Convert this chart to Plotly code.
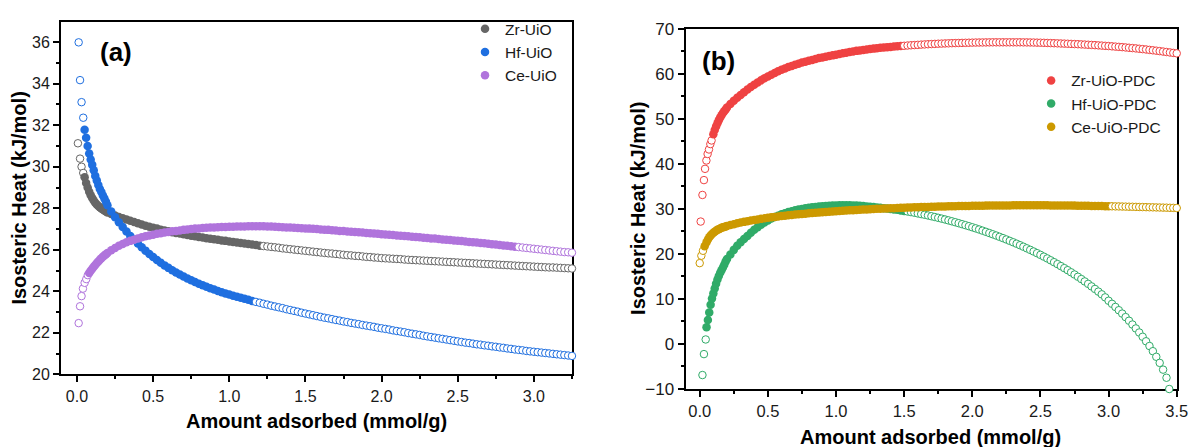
import plotly.graph_objects as go

# ---------------- data ----------------
GRID_A = [0.05, 0.06, 0.07, 0.08, 0.09, 0.10, 0.11, 0.12, 0.13, 0.14, 0.15, 0.16, 0.17, 0.18, 0.19, 0.20,
          0.225, 0.25, 0.275, 0.30, 0.325, 0.35, 0.375, 0.40, 0.425, 0.45, 0.475, 0.50, 0.525, 0.55, 0.575, 0.60,
          0.625, 0.65, 0.675, 0.70, 0.725, 0.75, 0.775, 0.80, 0.825, 0.85, 0.875, 0.90, 0.925, 0.95, 0.975, 1.00,
          1.025, 1.05, 1.075, 1.10, 1.125, 1.15, 1.175, 1.20, 1.225, 1.25, 1.275, 1.30, 1.325, 1.35, 1.375, 1.40,
          1.425, 1.45, 1.475, 1.50, 1.525, 1.55, 1.575, 1.60, 1.625, 1.65, 1.675, 1.70, 1.725, 1.75, 1.775, 1.80,
          1.825, 1.85, 1.875, 1.90, 1.925, 1.95, 1.975, 2.00,
          2.025, 2.05, 2.075, 2.10, 2.125, 2.15, 2.175, 2.20, 2.225, 2.25, 2.275, 2.30, 2.325, 2.35, 2.375, 2.40,
          2.425, 2.45, 2.475, 2.50, 2.525, 2.55, 2.575, 2.60, 2.625, 2.65, 2.675, 2.70, 2.725, 2.75, 2.775, 2.80,
          2.825, 2.85, 2.875, 2.90, 2.925, 2.95, 2.975, 3.00,
          3.025, 3.05, 3.075, 3.10, 3.125, 3.15, 3.175, 3.20, 3.225, 3.25]
GRID_B = GRID_A + [3.275, 3.30, 3.325, 3.35, 3.375, 3.40, 3.425, 3.45, 3.475, 3.50]

# Panel (a)
ZR_UIO_X = [0.006, 0.02, 0.03, 0.041] + GRID_A
ZR_UIO_Y = [31.13, 30.39, 30.00, 29.70,
            29.49, 29.22, 29.00, 28.80, 28.63, 28.49, 28.37, 28.27, 28.18, 28.11, 28.05, 27.99, 27.94, 27.89, 27.84, 27.80,
            27.72, 27.65, 27.58, 27.52, 27.46, 27.40, 27.34, 27.28, 27.22, 27.16, 27.11, 27.06, 27.02, 26.97, 26.93, 26.89,
            26.85, 26.81, 26.78, 26.75, 26.71, 26.68, 26.65, 26.62, 26.59, 26.56, 26.53, 26.51, 26.48, 26.45, 26.43, 26.40,
            26.38, 26.35, 26.33, 26.30, 26.28, 26.25, 26.23, 26.20, 26.18, 26.16, 26.14, 26.12, 26.10, 26.07, 26.05, 26.03,
            26.01, 25.99, 25.97, 25.95, 25.93, 25.91, 25.89, 25.87, 25.85, 25.83, 25.82, 25.80, 25.78, 25.76, 25.74, 25.73,
            25.71, 25.70, 25.68, 25.66, 25.65, 25.63, 25.62, 25.60,
            25.59, 25.58, 25.57, 25.56, 25.55, 25.53, 25.52, 25.51, 25.50, 25.49, 25.48, 25.47, 25.46, 25.45, 25.44, 25.43,
            25.42, 25.41, 25.40, 25.39, 25.38, 25.37, 25.36, 25.35, 25.34, 25.33, 25.32, 25.31, 25.30, 25.29, 25.28, 25.27,
            25.26, 25.25, 25.24, 25.23, 25.22, 25.21, 25.20, 25.19,
            25.18, 25.17, 25.16, 25.15, 25.15, 25.14, 25.13, 25.12, 25.11, 25.10]

HF_UIO_X = [0.011, 0.02, 0.03, 0.041] + GRID_A
HF_UIO_Y = [35.99, 34.17, 33.11, 32.36,
            31.78, 31.40, 31.00, 30.64, 30.35, 30.09, 29.83, 29.56, 29.34, 29.12, 28.93, 28.78, 28.62, 28.47, 28.31, 28.14,
            27.84, 27.57, 27.33, 27.10, 26.88, 26.67, 26.48, 26.30, 26.12, 25.96, 25.80, 25.65, 25.51, 25.38, 25.25, 25.13,
            25.02, 24.91, 24.81, 24.71, 24.62, 24.53, 24.45, 24.37, 24.29, 24.22, 24.15, 24.09, 24.02, 23.96, 23.90, 23.85,
            23.79, 23.74, 23.69, 23.64, 23.59, 23.54, 23.49, 23.45, 23.40, 23.36, 23.31, 23.27, 23.23, 23.19, 23.14, 23.10,
            23.06, 23.02, 22.97, 22.93, 22.89, 22.85, 22.81, 22.77, 22.73, 22.70, 22.66, 22.62, 22.59, 22.55, 22.52, 22.48,
            22.45, 22.42, 22.38, 22.35, 22.32, 22.29, 22.25, 22.22,
            22.19, 22.16, 22.12, 22.09, 22.06, 22.03, 21.99, 21.96, 21.93, 21.90, 21.86, 21.83, 21.80, 21.77, 21.74, 21.71,
            21.68, 21.65, 21.62, 21.59, 21.56, 21.53, 21.51, 21.48, 21.45, 21.43, 21.40, 21.38, 21.35, 21.33, 21.30, 21.28,
            21.25, 21.23, 21.20, 21.18, 21.16, 21.13, 21.11, 21.09,
            21.07, 21.05, 21.03, 21.01, 20.99, 20.97, 20.95, 20.93, 20.91, 20.89]

CE_UIO_X = [0.011, 0.02, 0.03, 0.039, 0.05, 0.061, 0.071] + GRID_A[3:]
CE_UIO_Y = [22.47, 23.28, 23.77, 24.13, 24.41, 24.59, 24.78,
            24.88, 24.99, 25.09, 25.18, 25.27, 25.36, 25.44, 25.52, 25.59, 25.66, 25.73, 25.79, 25.85,
            25.98, 26.09, 26.19, 26.28, 26.36, 26.43, 26.49, 26.55, 26.60, 26.65, 26.69, 26.73, 26.77, 26.80, 26.83, 26.86,
            26.89, 26.91, 26.93, 26.96, 26.98, 27.00, 27.02, 27.03, 27.05, 27.06, 27.07, 27.08, 27.09, 27.10, 27.10, 27.11,
            27.11, 27.12, 27.12, 27.12, 27.13, 27.13, 27.13, 27.13, 27.13, 27.12, 27.12, 27.11, 27.10, 27.09, 27.08, 27.07,
            27.06, 27.05, 27.04, 27.03, 27.02, 27.01, 27.00, 26.98, 26.97, 26.96, 26.94, 26.93, 26.91, 26.90, 26.88, 26.87,
            26.86, 26.84, 26.83, 26.81, 26.80, 26.78, 26.77, 26.75,
            26.74, 26.72, 26.71, 26.69, 26.68, 26.66, 26.65, 26.63, 26.62, 26.60, 26.58, 26.57, 26.55, 26.54, 26.52, 26.50,
            26.49, 26.47, 26.45, 26.44, 26.42, 26.40, 26.38, 26.36, 26.35, 26.33, 26.31, 26.29, 26.27, 26.25, 26.23, 26.21,
            26.19, 26.17, 26.15, 26.13, 26.11, 26.09, 26.07, 26.05,
            26.03, 26.01, 25.99, 25.97, 25.95, 25.93, 25.91, 25.89, 25.88, 25.86]

# Panel (b)
ZR_PDC_X = [0.007, 0.02, 0.031, 0.039, 0.049, 0.058, 0.068, 0.078, 0.087] + GRID_B[5:]
ZR_PDC_Y = [27.19, 33.1, 36.4, 38.9, 40.75, 42.2, 43.2, 44.4, 45.2,
            46.6, 47.5, 48.3, 49.0, 49.7, 50.3, 50.8, 51.3, 51.7, 52.1, 52.5,
            53.3, 54.0, 54.7, 55.3, 55.9, 56.5, 57.1, 57.6, 58.1, 58.55, 59.0, 59.4, 59.8, 60.2, 60.55, 60.9,
            61.2, 61.5, 61.75, 62.0, 62.25, 62.5, 62.7, 62.9, 63.1, 63.3, 63.5, 63.65, 63.8, 63.95, 64.1, 64.25,
            64.4, 64.55, 64.7, 64.85, 64.97, 65.1, 65.2, 65.3, 65.4, 65.5, 65.6, 65.7, 65.77, 65.84, 65.91, 65.98,
            66.05, 66.11, 66.17, 66.23, 66.29, 66.34, 66.39, 66.44, 66.49, 66.53, 66.57, 66.61, 66.65, 66.69, 66.72, 66.75,
            66.78, 66.81, 66.83, 66.85, 66.87, 66.89, 66.91, 66.93,
            66.95, 66.96, 66.97, 66.98, 66.99, 67.0, 67.0, 67.0, 67.0, 67.0, 67.0, 67.0, 67.0, 67.0, 66.99, 66.98,
            66.97, 66.95, 66.93, 66.91, 66.89, 66.86, 66.83, 66.8, 66.77, 66.74, 66.71, 66.68, 66.65, 66.61, 66.58, 66.54,
            66.5, 66.46, 66.42, 66.37, 66.32, 66.27, 66.22, 66.17,
            66.11, 66.05, 65.99, 65.93, 65.86, 65.79, 65.72, 65.65, 65.57, 65.49,
            65.41, 65.32, 65.23, 65.14, 65.05, 64.95, 64.85, 64.75, 64.65, 64.55]

HF_PDC_X = [0.02, 0.031, 0.044] + GRID_B[:145] + [3.445]
HF_PDC_Y = [-6.9, -2.25, 1.0,
            3.7, 5.3, 7.0, 8.7, 10.1, 11.2, 12.3, 13.4, 14.3, 15.1, 15.8, 16.4, 17.0, 17.6, 18.3, 18.9,
            19.9, 20.9, 21.8, 22.6, 23.3, 24.0, 24.7, 25.35, 25.95, 26.5, 27.0, 27.45, 27.85, 28.2, 28.5, 28.8,
            29.05, 29.3, 29.5, 29.7, 29.85, 30.0, 30.13, 30.25, 30.35, 30.45, 30.53, 30.6, 30.66, 30.71, 30.75, 30.78,
            30.8, 30.81, 30.81, 30.8, 30.77, 30.73, 30.68, 30.62, 30.55, 30.47, 30.40, 30.33, 30.25, 30.17, 30.08, 29.99,
            29.89, 29.79, 29.67, 29.55, 29.42, 29.29, 29.15, 29.0, 28.85, 28.7, 28.54, 28.37, 28.2, 28.02, 27.84, 27.65,
            27.45, 27.25, 27.04, 26.83, 26.61, 26.39, 26.16, 25.92,
            25.68, 25.43, 25.17, 24.91, 24.64, 24.37, 24.09, 23.8, 23.51, 23.21, 22.9, 22.59, 22.27, 21.94, 21.6, 21.25,
            20.9, 20.54, 20.17, 19.79, 19.4, 19.0, 18.59, 18.17, 17.74, 17.3, 16.85, 16.39, 15.92, 15.43, 14.93, 14.42,
            13.89, 13.35, 12.79, 12.22, 11.63, 11.03, 10.35, 9.6,
            8.92, 8.22, 7.5, 6.75, 5.97, 5.16, 4.32, 3.45, 2.55, 1.6,
            0.6, -0.45, -1.6, -2.85, -4.2, -5.7, -7.5,
            -10.0]

CE_PDC_X = [0.0, 0.012, 0.024, 0.036] + GRID_B
CE_PDC_Y = [17.96, 19.6, 20.7, 21.7,
            22.6, 23.2, 23.7, 24.1, 24.45, 24.7, 24.95, 25.15, 25.35, 25.5, 25.65, 25.8, 25.9, 26.0, 26.1, 26.2,
            26.4, 26.6, 26.8, 26.97, 27.12, 27.28, 27.42, 27.55, 27.67, 27.79, 27.9, 28.01, 28.12, 28.22, 28.31, 28.4,
            28.5, 28.58, 28.66, 28.74, 28.81, 28.88, 28.95, 29.02, 29.09, 29.15, 29.21, 29.27, 29.33, 29.38, 29.43, 29.48,
            29.53, 29.58, 29.63, 29.68, 29.72, 29.77, 29.81, 29.85, 29.89, 29.93, 29.97, 30.01, 30.04, 30.08, 30.11, 30.14,
            30.17, 30.2, 30.23, 30.26, 30.29, 30.32, 30.35, 30.38, 30.4, 30.42, 30.44, 30.47, 30.49, 30.51, 30.53, 30.55,
            30.57, 30.59, 30.61, 30.62, 30.64, 30.65, 30.67, 30.68,
            30.69, 30.71, 30.72, 30.73, 30.74, 30.75, 30.76, 30.77, 30.77, 30.78, 30.78, 30.79, 30.79, 30.79, 30.8, 30.8,
            30.8, 30.8, 30.8, 30.79, 30.79, 30.79, 30.78, 30.78, 30.77, 30.77, 30.76, 30.75, 30.74, 30.73, 30.72, 30.71,
            30.7, 30.69, 30.67, 30.66, 30.64, 30.63, 30.61, 30.6,
            30.58, 30.56, 30.55, 30.53, 30.51, 30.49, 30.47, 30.45, 30.43, 30.41,
            30.39, 30.37, 30.35, 30.33, 30.31, 30.29, 30.27, 30.25, 30.23, 30.2]

# x-span over which each series is drawn with solid markers (outside: hollow)
SOLID_SPAN = {
    "Zr-UiO": (0.045, 1.21), "Hf-UiO": (0.045, 1.16), "Ce-UiO": (0.075, 2.89),
    "Zr-UiO-PDC": (0.095, 1.49), "Hf-UiO-PDC": (0.048, 1.52), "Ce-UiO-PDC": (0.03, 3.01),
}

for xs, ys in [(ZR_UIO_X, ZR_UIO_Y), (HF_UIO_X, HF_UIO_Y), (CE_UIO_X, CE_UIO_Y),
               (ZR_PDC_X, ZR_PDC_Y), (HF_PDC_X, HF_PDC_Y), (CE_PDC_X, CE_PDC_Y)]:
    assert len(xs) == len(ys), (len(xs), len(ys))

# ---------------- figure ----------------
FONT = "Arial, 'Liberation Sans', sans-serif"
fig = go.Figure()


def add_series(xs, ys, name, color, xa, ya, legend):
    lo, hi = SOLID_SPAN[name]
    pts = list(zip(xs, ys))
    parts = [
        ([p for p in pts if p[0] < lo], False),
        ([p for p in pts if lo <= p[0] <= hi], True),
        ([p for p in pts if p[0] > hi], False),
    ]
    for seg, solid in parts:
        if not seg:
            continue
        if solid:
            marker = dict(size=8.5, color=color, line=dict(width=0))
        else:
            marker = dict(size=7.5, color="white", line=dict(color=color, width=1))
        fig.add_trace(go.Scatter(
            x=[p[0] for p in seg], y=[p[1] for p in seg], mode="markers",
            name=name, marker=marker, showlegend=solid, legend=legend,
            xaxis=xa, yaxis=ya, cliponaxis=False, hoverinfo="x+y+name"))


add_series(ZR_UIO_X, ZR_UIO_Y, "Zr-UiO", "#666666", "x", "y", "legend")
add_series(HF_UIO_X, HF_UIO_Y, "Hf-UiO", "#1f6fe0", "x", "y", "legend")
add_series(CE_UIO_X, CE_UIO_Y, "Ce-UiO", "#b074dc", "x", "y", "legend")
add_series(ZR_PDC_X, ZR_PDC_Y, "Zr-UiO-PDC", "#ef4242", "x2", "y2", "legend2")
add_series(HF_PDC_X, HF_PDC_Y, "Hf-UiO-PDC", "#30ab68", "x2", "y2", "legend2")
add_series(CE_PDC_X, CE_PDC_Y, "Ce-UiO-PDC", "#cc9900", "x2", "y2", "legend2")

W, H = 1200, 447
ML, MR, MT, MB = 61, 12, 12, 58
PW, PH = W - ML - MR, H - MT - MB


def px(xp):
    return (xp - ML) / PW


def py(yp):
    return (H - MB - yp) / PH


axis_common = dict(
    showline=True, linewidth=2, linecolor="black", mirror=True,
    ticks="outside", ticklen=6, tickwidth=2, tickcolor="black",
    showgrid=False, zeroline=False, layer="below traces",
)

fig.update_layout(
    width=W, height=H,
    margin=dict(l=ML, r=MR, t=MT, b=MB, pad=0),
    paper_bgcolor="white", plot_bgcolor="white",
    font=dict(family=FONT, color="#1a1a1a"),
    xaxis=dict(domain=[0, px(577)], range=[-0.105, 3.25], anchor="y",
               tickmode="linear", tick0=0, dtick=0.5, tickformat=".1f",
               tickfont=dict(size=16),
               minor=dict(ticks="outside", ticklen=3, tickwidth=2, tickcolor="black", tick0=0, dtick=0.25),
               **axis_common),
    yaxis=dict(domain=[py(374), 1], range=[20, 36.97], anchor="x",
               tickmode="linear", tick0=20, dtick=2, tickfont=dict(size=16),
               minor=dict(ticks="outside", ticklen=3, tickwidth=2, tickcolor="black", tick0=20, dtick=1),
               **axis_common),
    xaxis2=dict(domain=[px(691.7), 1], range=[-0.104, 3.502], anchor="y2",
                tickmode="linear", tick0=0, dtick=0.5, tickformat=".1f",
                tickfont=dict(size=16.5),
                minor=dict(ticks="outside", ticklen=3, tickwidth=2, tickcolor="black", tick0=0, dtick=0.25),
                **axis_common),
    yaxis2=dict(domain=[0, py(19)], range=[-10, 70], anchor="x2",
                tickmode="linear", tick0=-10, dtick=10, tickfont=dict(size=17),
                minor=dict(ticks="outside", ticklen=3, tickwidth=2, tickcolor="black", tick0=-10, dtick=5),
                **axis_common),
    legend=dict(x=px(469), y=py(2), xanchor="left", yanchor="top",
                bgcolor="rgba(0,0,0,0)", font=dict(size=15.5, color="#1a1a1a"),
                traceorder="normal", itemwidth=30, tracegroupgap=0),
    legend2=dict(x=px(1040.7), y=py(55), xanchor="left", yanchor="top",
                 bgcolor="rgba(0,0,0,0)", font=dict(size=15.5, color="#1a1a1a"),
                 traceorder="normal", itemwidth=30, tracegroupgap=0),
    showlegend=True,
)

annotations = [
    dict(text="<b>(a)</b>", x=px(116.3), y=py(43.3), font=dict(size=26, color="black")),
    dict(text="<b>(b)</b>", x=px(724.5), y=py(52), font=dict(size=26, color="black")),
    dict(text="<b>Amount adsorbed (mmol/g)</b>", x=px(319.5), y=py(421.7), font=dict(size=20, color="black")),
    dict(text="<b>Amount adsorbed (mmol/g)</b>", x=px(939.5), y=py(438), font=dict(size=20, color="black")),
    dict(text="<b>Isosteric Heat (kJ/mol)</b>", x=px(19), y=py(193), textangle=-90,
         font=dict(size=20, color="black")),
    dict(text="<b>Isosteric Heat (kJ/mol)</b>", x=px(643.7), y=py(204), textangle=-90,
         font=dict(size=20, color="black")),
]
for a in annotations:
    a.update(xref="paper", yref="paper", showarrow=False, xanchor="center", yanchor="middle")
fig.update_layout(annotations=annotations)

fig.write_html("out.html", config={"displayModeBar": False},
               post_script="document.body.style.margin='0';document.body.style.overflow='hidden';")
